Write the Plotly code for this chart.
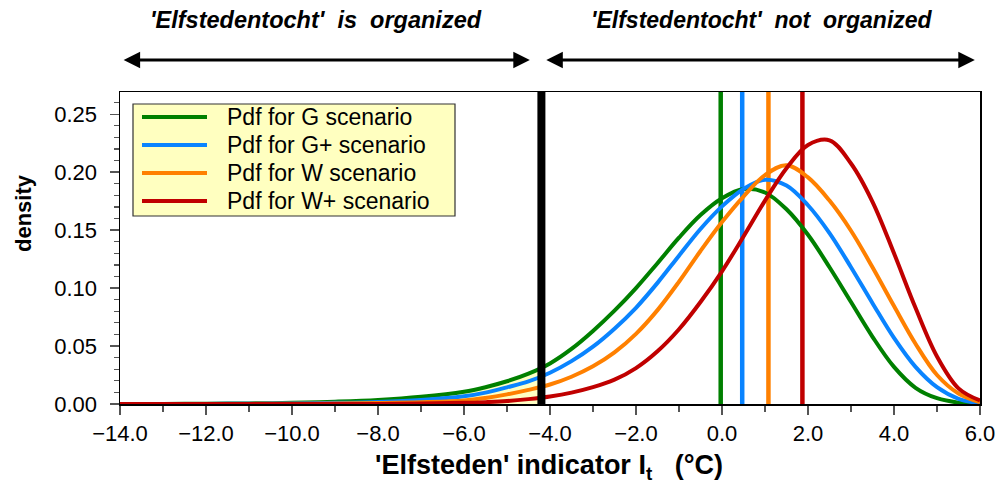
import plotly.graph_objects as go

# ---- data ----
x_grid = [-14, -13, -12, -11, -10, -9, -8, -7, -6, -5.5, -5, -4.5, -4, -3.5, -3, -2.5, -2, -1.5,
          -1, -0.5, 0, 0.5, 1, 1.5, 2, 2.5, 3, 3.5, 4, 4.5, 5, 5.5, 6]

pdf_G = [0, 0.0001, 0.0002, 0.0005, 0.0010, 0.0020, 0.0035, 0.0062, 0.0106, 0.0145, 0.0196, 0.0262,
         0.0350, 0.0475, 0.0630, 0.0805, 0.1000, 0.1215, 0.1435, 0.1630, 0.1775, 0.1855, 0.1825,
         0.1680, 0.1460, 0.1180, 0.0880, 0.0580, 0.0320, 0.0140, 0.0050, 0.0012, 0.0]
pdf_Gp = [0, 0, 0.0001, 0.0002, 0.0005, 0.0010, 0.0018, 0.0034, 0.0066, 0.0098, 0.0144, 0.0195,
          0.0270, 0.0370, 0.0495, 0.0650, 0.0830, 0.1045, 0.1280, 0.1510, 0.1705, 0.1855, 0.1935,
          0.1885, 0.1715, 0.1475, 0.1180, 0.0870, 0.0570, 0.0320, 0.0145, 0.0045, 0.0005]
pdf_W = [0, 0, 0, 0.0001, 0.0002, 0.0004, 0.0008, 0.0015, 0.0030, 0.0052, 0.0083, 0.0122,
         0.0168, 0.0235, 0.0325, 0.0445, 0.0605, 0.0810, 0.1055, 0.1320, 0.1570, 0.1790, 0.1975,
         0.2060, 0.1955, 0.1755, 0.1495, 0.1180, 0.0845, 0.0520, 0.0250, 0.0090, 0.0015]
pdf_Wp = [0, 0, 0, 0, 0, 0, 0.0001, 0.0004, 0.0010, 0.0016, 0.0025, 0.0042,
          0.0065, 0.0098, 0.0145, 0.0210, 0.0310, 0.0455, 0.0645, 0.0880, 0.1145, 0.1445, 0.1755,
          0.2035, 0.2235, 0.2275, 0.2075, 0.1745, 0.1300, 0.0830, 0.0410, 0.0135, 0.0030]

# G-scenario pdf over the "organized" region (left of the threshold)
organized_x = [-14, -13, -12, -11, -10, -9, -8, -7, -6, -5.5, -5, -4.5, -4.2]
organized_pdf = [0, 0.0001, 0.0002, 0.0005, 0.0010, 0.0020, 0.0035, 0.0062, 0.0106, 0.0145,
                 0.0196, 0.0262, 0.0315]

scenario_names = ["Pdf for G scenario", "Pdf for G+ scenario", "Pdf for W scenario", "Pdf for W+ scenario"]
scenario_means = [-0.03, 0.47, 1.08, 1.87]
threshold = -4.2
y_top = 0.2692

colors = ["#008000", "#0A84FF", "#FF8000", "#C00000"]
series = [pdf_G, pdf_Gp, pdf_W, pdf_Wp]
FONT = "Liberation Sans, Arial, sans-serif"

fig = go.Figure()

# yellow shaded region (Elfstedentocht organized)
fig.add_trace(go.Scatter(x=organized_x, y=organized_pdf, mode="lines",
                         line=dict(width=0, shape="spline"),
                         fill="tozeroy", fillcolor="#FFFFC4", showlegend=False, hoverinfo="skip"))

# vertical mean lines
for m, c in zip(scenario_means, colors):
    fig.add_trace(go.Scatter(x=[m, m], y=[0, y_top], mode="lines", line=dict(color=c, width=4.5),
                             showlegend=False, hoverinfo="skip"))

# pdf curves
for name, ys, c in zip(scenario_names, series, colors):
    fig.add_trace(go.Scatter(x=x_grid, y=ys, mode="lines", name=name,
                             line=dict(color=c, width=4, shape="spline", smoothing=1.0),
                             showlegend=False))

# threshold line
fig.add_trace(go.Scatter(x=[threshold, threshold], y=[-0.0015, y_top + 0.001], mode="lines",
                         line=dict(color="black", width=8), showlegend=False, hoverinfo="skip",
                         cliponaxis=False))

# helpers for layout placement (pixel -> paper)
def px2paper_x(px):
    return (px - 120) / 860.0

def py2paper_y(py):
    return (404 - py) / 312.0

# manual legend
shapes = [dict(type="rect", xref="paper", yref="paper",
               x0=px2paper_x(133), x1=px2paper_x(455), y0=py2paper_y(216), y1=py2paper_y(104),
               fillcolor="#FFFFC0", line=dict(color="#333333", width=1.2), layer="above")]
annotations = []
row_y = [117, 145, 173, 201]
for name, c, ry in zip(scenario_names, colors, row_y):
    shapes.append(dict(type="line", xref="paper", yref="paper",
                       x0=px2paper_x(142), x1=px2paper_x(207), y0=py2paper_y(ry), y1=py2paper_y(ry),
                       line=dict(color=c, width=4), layer="above"))
    annotations.append(dict(xref="paper", yref="paper", x=px2paper_x(225), y=py2paper_y(ry),
                            text=name, showarrow=False, xanchor="left", yanchor="middle",
                            font=dict(family=FONT, size=23, color="black")))

# axis titles
annotations.append(dict(xref="paper", yref="paper", x=px2paper_x(549), y=py2paper_y(467),
                        text="<b>'Elfsteden' indicator I<sub>t</sub>&nbsp;&nbsp;&nbsp;(°C)</b>",
                        showarrow=False, xanchor="center", yanchor="middle",
                        font=dict(family=FONT, size=27, color="black")))
annotations.append(dict(xref="paper", yref="paper", x=px2paper_x(23), y=py2paper_y(213),
                        text="<b>density</b>", textangle=-90, showarrow=False,
                        xanchor="center", yanchor="middle",
                        font=dict(family=FONT, size=22, color="black")))

# top texts
annotations.append(dict(xref="paper", yref="paper", x=px2paper_x(316), y=py2paper_y(20),
                        text="<b><i>'Elfstedentocht'&nbsp;&nbsp;is&nbsp;&nbsp;organized</i></b>",
                        showarrow=False, xanchor="center", yanchor="middle",
                        font=dict(family=FONT, size=23.5, color="black")))
annotations.append(dict(xref="paper", yref="paper", x=px2paper_x(762), y=py2paper_y(20),
                        text="<b><i>'Elfstedentocht'&nbsp;&nbsp;not&nbsp;&nbsp;organized</i></b>",
                        showarrow=False, xanchor="center", yanchor="middle",
                        font=dict(family=FONT, size=23, color="black")))

# double-headed arrows
arrow_y = py2paper_y(60)
for x0, x1 in [(-13.95, -4.47), (-4.12, 5.88)]:
    annotations.append(dict(xref="x", yref="paper", x=x1, y=arrow_y, axref="x", ayref="pixel",
                            ax=x0, ay=0, text="", showarrow=True, arrowhead=2, startarrowhead=2,
                            arrowside="end+start", arrowsize=1.1, startarrowsize=1.1,
                            arrowwidth=3, arrowcolor="black"))

fig.update_layout(
    width=997, height=488,
    margin=dict(l=120, r=17, t=92, b=84, autoexpand=False),
    plot_bgcolor="white", paper_bgcolor="white",
    showlegend=False,
    shapes=shapes, annotations=annotations,
    font=dict(family=FONT, size=22, color="black"),
)
fig.update_xaxes(range=[-14, 6], tickmode="array", tickvals=list(range(-14, 7, 2)),
                 tickformat=".1f", ticks="outside", ticklen=9, tickwidth=1.5, tickcolor="#555555",
                 minor=dict(dtick=1, ticks="outside", ticklen=6, tickwidth=1.5, tickcolor="#555555"),
                 showline=True, linecolor="black", linewidth=1.5, mirror=True, automargin=False,
                 showgrid=False, zeroline=False, tickfont=dict(size=22))
fig.update_yaxes(range=[0, y_top], dtick=0.05, tick0=0, tickformat=".2f", ticks="outside",
                 ticklen=9, tickwidth=1.5, tickcolor="#555555", ticklabelstandoff=8,
                 minor=dict(dtick=0.01, ticks="outside", ticklen=5, tickwidth=1.2, tickcolor="#555555"),
                 showline=True, linecolor="black", linewidth=1.5, mirror=True, automargin=False,
                 showgrid=False, zeroline=False, tickfont=dict(size=22))

fig.write_html("out.html", config={"displayModeBar": False, "staticPlot": True},
               post_script="document.body.style.margin='0';document.body.style.padding='0';")
